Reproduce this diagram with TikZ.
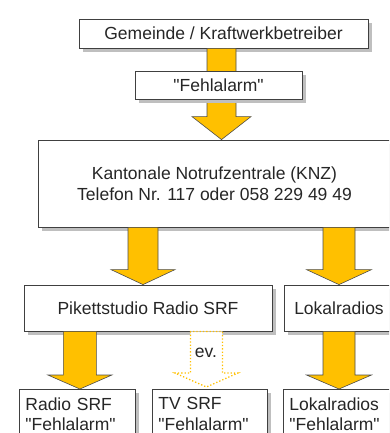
\documentclass[tikz,border=0pt]{standalone}
\usepackage{fontspec}
\setmainfont{Liberation Sans}
\usepackage{tikz}
\usetikzlibrary{calc,shadows}
\definecolor{gold}{HTML}{FFC000}
\tikzset{
	box/.style={draw=black!75, fill=white, line width=0.8pt, inner sep=0pt,
		drop shadow={shadow xshift=4pt, shadow yshift=-4pt, fill=black!25, opacity=1},
		font=\fontsize{17.5}{20.5}\selectfont, text=black!85},
	endbox/.style={box, anchor=north west, align=left, text width=#1, inner xsep=6pt, inner ysep=8pt},
	goldarrow/.style={draw=black!70, fill=gold, line width=0.6pt},
	evarrow/.style={draw=gold, fill=white, dotted, line width=1.3pt},
}
\def\q{\textquotedbl}
% block arrow: [style]{from}{tip}{shaft half}{head half}{head length}
\newcommand\blockarrow[6][goldarrow]{\draw[#1] let \p1=#2, \p2=#3 in
	(\x1-#4pt,\y1) -- (\x1-#4pt,\y2+#6pt) -- (\x1-#5pt,\y2+#6pt) -- (\x2,\y2)
	-- (\x1+#5pt,\y2+#6pt) -- (\x1+#4pt,\y2+#6pt) -- (\x1+#4pt,\y1) -- cycle;}

\begin{document}
\begin{tikzpicture}[x=1pt, y=-1pt]
			%%%%% START %%%%%
			\useasboundingbox (0,0) rectangle (389,433);
			\clip (0,0) rectangle (389,433);
			
			\node[box, minimum width=289pt, minimum height=29pt] (gem) at (223.5, 33.5) {Gemeinde / Kraftwerkbetreiber};
			\node[box, minimum width=353pt, minimum height=87pt, align=center] (knz) at (214.5, 183.5)
				{Kantonale Notrufzentrale (KNZ)\\Telefon Nr. 117 oder 058 229 49 49};
			
			\blockarrow{([xshift=-2pt]gem.south)}{([xshift=-2pt]gem.south |- knz.north)}{14.5}{29.5}{23}
			\node[box, minimum width=167pt, minimum height=28pt] (fehl) at (218.5, 85) {\q Fehlalarm\q};
			
			\node[box, minimum width=248pt, minimum height=46pt] (pik) at (148, 308) {Pikettstudio Radio SRF};
			\node[box, minimum width=110pt, minimum height=46pt] (lok) at (339, 308) {Lokalradios};
			
			\blockarrow{([xshift=-5pt]pik.north |- knz.south)}{([xshift=-5pt]pik.north)}{15}{32}{15}
			\blockarrow{(lok.north |- knz.south)}{(lok.north)}{16}{32.5}{15}
			
			\node[endbox=104pt] (rsrf) at (19, 389) {Radio SRF\\\q Fehlalarm\q};
			\node[endbox=103pt] (tv) at (152, 389) {TV SRF\\\q Fehlalarm\q};
			\node[endbox=104pt] (lokf) at (283, 389) {Lokalradios\\\q Fehlalarm\q};
			
			\blockarrow{([xshift=2.5pt]rsrf.north |- pik.south)}{([xshift=2.5pt]rsrf.north)}{16.5}{32}{14}
			\blockarrow[evarrow]{([xshift=-3.5pt]tv.north |- pik.south)}{([xshift=-3.5pt,yshift=2pt]tv.north)}{16}{31.5}{14}
			\node[font=\fontsize{17.5}{20.5}\selectfont, text=black!85] (ev) at (206, 353) {ev.};
			\blockarrow{(lok.south)}{(lok.south |- lokf.north)}{16}{32.5}{14}
			
			%%%%% END %%%%%
		\end{tikzpicture}
\end{document}
